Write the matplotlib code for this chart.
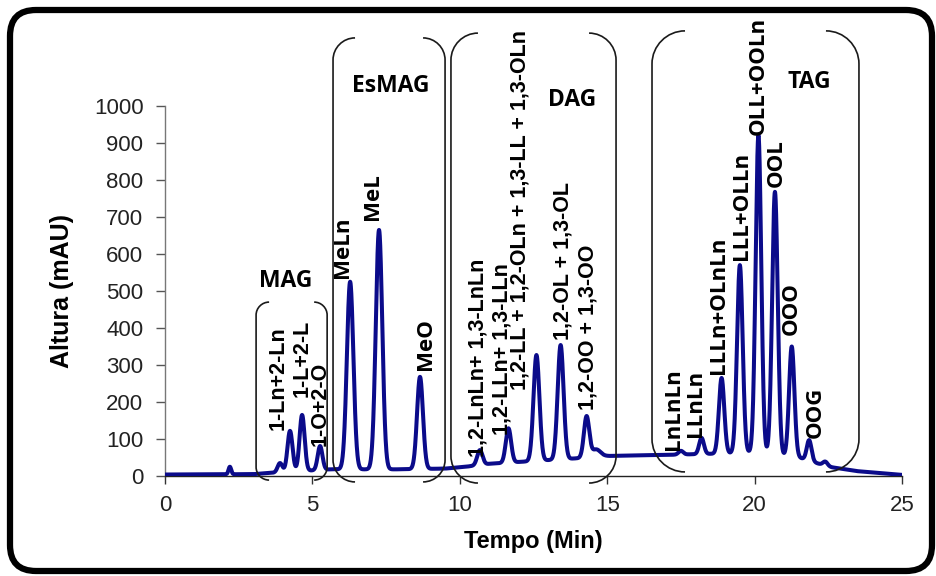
import numpy as np
import matplotlib
matplotlib.use("Agg")
import matplotlib.pyplot as plt
from matplotlib.path import Path
from matplotlib.patches import PathPatch, FancyBboxPatch
from matplotlib.transforms import IdentityTransform

# ---------------- data ----------------
# chromatogram peaks: retention time (min), apex height (mAU), peak sigma (min)
peak_rt = [2.20, 3.90, 4.24, 4.65, 5.26, 6.28, 7.26, 8.65,
           10.68, 11.65, 12.60, 13.42, 14.30, 14.62,
           17.50, 18.20, 18.88, 19.50, 20.13, 20.69, 21.26, 21.85, 22.40]
peak_height = [25, 35, 122, 165, 81, 525, 665, 268,
               70, 129, 327, 354, 160, 72,
               68, 103, 265, 570, 921, 768, 350, 97, 39]
peak_sigma = [0.045, 0.08, 0.085, 0.085, 0.08, 0.11, 0.11, 0.10,
              0.09, 0.09, 0.10, 0.10, 0.09, 0.15,
              0.08, 0.08, 0.09, 0.095, 0.095, 0.095, 0.09, 0.08, 0.08]

# baseline drift (time, mAU)
base_t = [0, 3.0, 3.5, 5.6, 7.8, 9.5, 10.2, 11.0, 12.0, 13.0, 14.0, 15.0,
          16.0, 17.0, 18.5, 20.0, 21.5, 22.5, 23.5, 25.0]
base_y = [4, 5, 8, 18, 18, 20, 25, 33, 38, 43, 48, 54,
          56, 57, 60, 63, 50, 25, 13, 3]

# peak labels: text, time, bottom height
mag_labels = ["1-Ln+2-Ln", "1-L+2-L", "1-O+2-O"]
mag_x = [3.83, 4.64, 5.26]
mag_y = [124, 214, 81]

me_labels = ["MeLn", "MeL", "MeO"]
me_x = [6.03, 7.05, 8.82]
me_y = [535, 692, 286]

dag_labels = ["1,2-LnLn+ 1,3-LnLn", "1,2-LLn+ 1,3-LLn",
              "1,2-LL + 1,2-OLn + 1,3-LL + 1,3-OLn",
              "1,2-OL + 1,3-OL", "1,2-OO + 1,3-OO"]
dag_x = [10.62, 11.42, 12.04, 13.49, 14.36]
dag_y = [52, 111, 232, 367, 178]

tag_labels = ["LnLnLn", "LLnLn", "LLLn+OLnLn", "LLL+OLLn", "OLL+OOLn",
              "OOL", "OOO", "OOG"]
tag_x = [17.24, 17.98, 18.77, 19.56, 20.13, 20.75, 21.26, 22.05]
tag_y = [70, 106, 277, 584, 921, 782, 381, 102]

# group brackets: name, x range (min), y range (mAU), name position
group_names = ["MAG", "EsMAG", "DAG", "TAG"]
group_x0 = [3.09, 5.70, 9.70, 16.52]
group_x1 = [5.50, 9.50, 15.30, 23.54]
group_ytop = [470, 1184, 1197, 1203]
group_ybot = [-11, -16, -19, 11]
group_text_x = [4.10, 7.66, 13.80, 21.85]
group_text_y = [511, 1037, 1000, 1049]

x_ticks = [0, 5, 10, 15, 20, 25]
y_ticks = list(range(0, 1001, 100))

# ---------------- build trace ----------------
t = np.linspace(0, 25, 5001)
baseline = np.interp(t, base_t, base_y)
signal = baseline.copy()
for rt, h, s in zip(peak_rt, peak_height, peak_sigma):
    amp = h - np.interp(rt, base_t, base_y)
    signal += amp * np.exp(-0.5 * ((t - rt) / s) ** 2)

# ---------------- figure ----------------
W, H = 936, 576
fig = plt.figure(figsize=(W / 100, H / 100), dpi=100)
ax = fig.add_axes([165 / W, 1 - 476 / H, (902 - 165) / W, (476 - 106) / H])

ax.plot(t, signal, color="#0b0b8a", lw=2.9, solid_joinstyle="round",
        solid_capstyle="round", zorder=3)
ax.set_xlim(0, 25)
ax.set_ylim(0, 1000)
ax.set_xticks(x_ticks)
ax.set_yticks(y_ticks)

tick_font = dict(family=["Liberation Sans", "DejaVu Sans"], size=16)
ax.set_xticklabels([str(v) for v in x_ticks], fontdict=tick_font)
ax.set_yticklabels([str(v) for v in y_ticks], fontdict=tick_font)
ax.tick_params(axis="y", direction="out", length=6.5, width=1, color="#555555",
               pad=9, labelcolor="#222222")
ax.tick_params(axis="x", direction="out", length=6, width=1, color="#333333",
               pad=8, labelcolor="#222222")
for side in ["top", "right"]:
    ax.spines[side].set_visible(False)
ax.spines["left"].set_color("#777777")
ax.spines["bottom"].set_color("#222222")
ax.spines["left"].set_linewidth(1)
ax.spines["bottom"].set_linewidth(1)

ax.set_xlabel("Tempo (Min)", family=["Liberation Sans", "DejaVu Sans"],
              fontsize=17, fontweight="bold", labelpad=10)
ax.set_ylabel("Altura (mAU)", family=["Liberation Sans", "DejaVu Sans"],
              fontsize=18, fontweight="bold", labelpad=14)

arial_b = dict(family=["Liberation Sans", "DejaVu Sans"], fontweight="bold", fontsize=15.5)
open_b = dict(family=["Open Sans", "DejaVu Sans"], fontweight="bold", fontsize=16)

def rot_labels(labels, xs, ys, font):
    for s, x, y in zip(labels, xs, ys):
        ax.text(x, y, s, rotation=90, ha="center", va="bottom",
                clip_on=False, zorder=4, **font)

rot_labels(mag_labels, mag_x, mag_y, arial_b)
rot_labels(me_labels, me_x, me_y, open_b)
rot_labels(dag_labels, dag_x, dag_y, arial_b)
rot_labels(tag_labels, tag_x, tag_y, open_b)

for name, x, y in zip(group_names, group_text_x, group_text_y):
    ax.text(x, y, name, ha="center", va="baseline", clip_on=False,
            family=["Open Sans", "DejaVu Sans"], fontweight="bold", fontsize=16.5)

# brackets drawn in pixel space
ident = IdentityTransform()
radii = [13, 22, 27, 33]
for x0, x1, yt, yb, r in zip(group_x0, group_x1, group_ytop, group_ybot, radii):
    (px0, pyt), (px1, pyb) = ax.transData.transform([(x0, yt), (x1, yb)])
    k = 0.55
    left = [(px0 + r, pyt), (px0 + r * (1 - k), pyt), (px0, pyt - r * (1 - k)), (px0, pyt - r),
            (px0, pyb + r),
            (px0, pyb + r * (1 - k)), (px0 + r * (1 - k), pyb), (px0 + r, pyb)]
    right = [(px1 - r, pyt), (px1 - r * (1 - k), pyt), (px1, pyt - r * (1 - k)), (px1, pyt - r),
             (px1, pyb + r),
             (px1, pyb + r * (1 - k)), (px1 - r * (1 - k), pyb), (px1 - r, pyb)]
    codes = [Path.MOVETO, Path.CURVE4, Path.CURVE4, Path.CURVE4, Path.LINETO,
             Path.CURVE4, Path.CURVE4, Path.CURVE4]
    for pts in (left, right):
        fig.add_artist(PathPatch(Path(pts, codes), transform=ident, fill=False,
                                 edgecolor="#1a1a1a", lw=1.2, zorder=5))

# rounded frame around figure
frame = FancyBboxPatch((10, 5), 922, 561, boxstyle="round,pad=0,rounding_size=26",
                       transform=ident, fill=False, edgecolor="black", lw=4.5)
fig.add_artist(frame)

fig.savefig("out.png", dpi=100)
